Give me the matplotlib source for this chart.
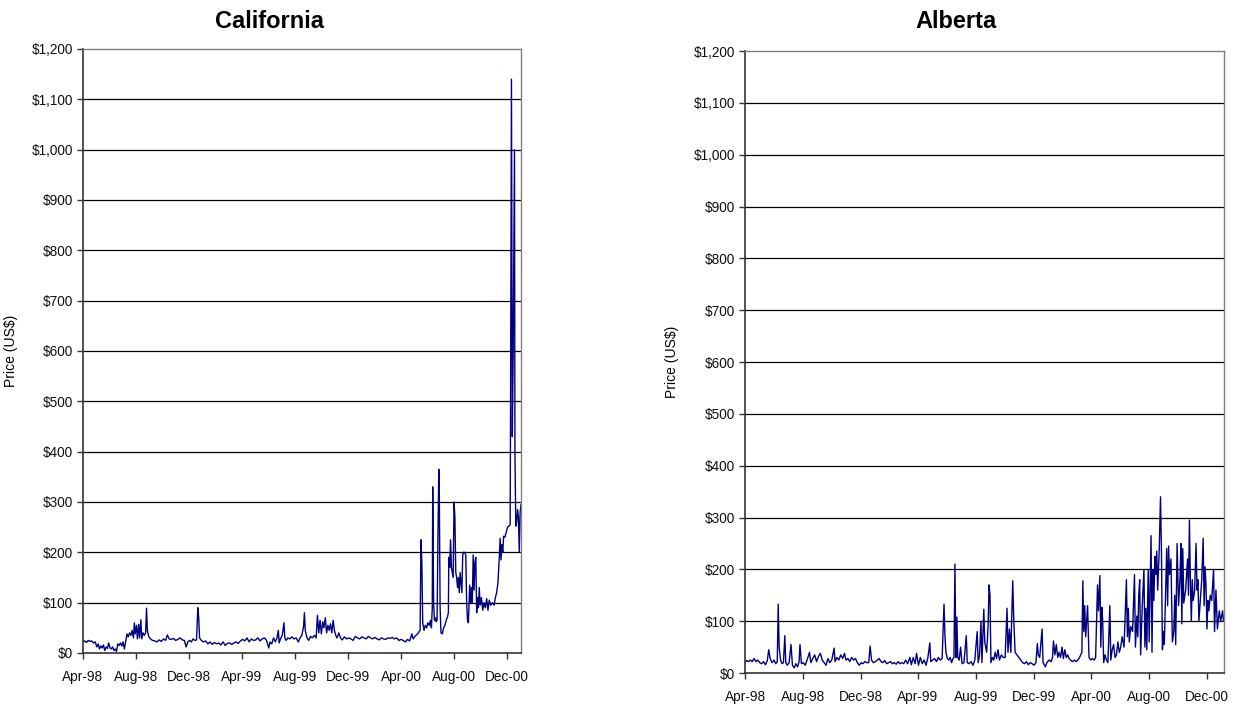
import numpy as np
import matplotlib
matplotlib.use('Agg')
import matplotlib.pyplot as plt
import matplotlib.dates as mdates
from matplotlib.ticker import MultipleLocator, FuncFormatter

plt.rcParams['font.family'] = ['Liberation Sans Narrow', 'Liberation Sans', 'DejaVu Sans']

#================= California daily price (US$) ==================
cal_dates = [
    '1998-04-01', '1998-04-05', '1998-04-09', '1998-04-13', '1998-04-17', '1998-04-21', '1998-04-25', '1998-04-29',
    '1998-05-03', '1998-05-06', '1998-05-09', '1998-05-12', '1998-05-15', '1998-05-18', '1998-05-21', '1998-05-24',
    '1998-05-27', '1998-05-30', '1998-06-02', '1998-06-05', '1998-06-08', '1998-06-11', '1998-06-14', '1998-06-17',
    '1998-06-20', '1998-06-23', '1998-06-26', '1998-06-29', '1998-07-02', '1998-07-05', '1998-07-08', '1998-07-11',
    '1998-07-14', '1998-07-17', '1998-07-20', '1998-07-23', '1998-07-26', '1998-07-28', '1998-07-30', '1998-08-02',
    '1998-08-04', '1998-08-07', '1998-08-09', '1998-08-12', '1998-08-14', '1998-08-17', '1998-08-20', '1998-08-23',
    '1998-08-25', '1998-08-27', '1998-08-30', '1998-09-03', '1998-09-08', '1998-09-13', '1998-09-18', '1998-09-23',
    '1998-09-28', '1998-10-03', '1998-10-08', '1998-10-12', '1998-10-16', '1998-10-21', '1998-10-26', '1998-10-31',
    '1998-11-05', '1998-11-10', '1998-11-15', '1998-11-20', '1998-11-24', '1998-11-28', '1998-12-02', '1998-12-06',
    '1998-12-10', '1998-12-14', '1998-12-18', '1998-12-21', '1998-12-23', '1998-12-25', '1998-12-29',
    '1999-01-03', '1999-01-08', '1999-01-13', '1999-01-18', '1999-01-23', '1999-01-28', '1999-02-02', '1999-02-07',
    '1999-02-12', '1999-02-17', '1999-02-22', '1999-02-27', '1999-03-04', '1999-03-09', '1999-03-14', '1999-03-19',
    '1999-03-24', '1999-03-29', '1999-04-03', '1999-04-08', '1999-04-13', '1999-04-18', '1999-04-23', '1999-04-28',
    '1999-05-03', '1999-05-08', '1999-05-13', '1999-05-18', '1999-05-23', '1999-05-28', '1999-06-02', '1999-06-05',
    '1999-06-09', '1999-06-13', '1999-06-17', '1999-06-21', '1999-06-24', '1999-06-26', '1999-06-29', '1999-07-03',
    '1999-07-07', '1999-07-09', '1999-07-12', '1999-07-16', '1999-07-20', '1999-07-25', '1999-07-30', '1999-08-04',
    '1999-08-09', '1999-08-13', '1999-08-17', '1999-08-21', '1999-08-23', '1999-08-25', '1999-08-29', '1999-09-02',
    '1999-09-06', '1999-09-10', '1999-09-15', '1999-09-19', '1999-09-22', '1999-09-25', '1999-09-28', '1999-10-01',
    '1999-10-04', '1999-10-07', '1999-10-10', '1999-10-13', '1999-10-16', '1999-10-19', '1999-10-22', '1999-10-25',
    '1999-10-28', '1999-10-31', '1999-11-03', '1999-11-06', '1999-11-10', '1999-11-14', '1999-11-18', '1999-11-23',
    '1999-11-28', '1999-12-03', '1999-12-08', '1999-12-13', '1999-12-18', '1999-12-23', '1999-12-28',
    '2000-01-02', '2000-01-07', '2000-01-12', '2000-01-17', '2000-01-22', '2000-01-27', '2000-02-01', '2000-02-06',
    '2000-02-11', '2000-02-16', '2000-02-21', '2000-02-26', '2000-03-02', '2000-03-07', '2000-03-12', '2000-03-17',
    '2000-03-22', '2000-03-27', '2000-04-01', '2000-04-06', '2000-04-11', '2000-04-16', '2000-04-21', '2000-04-26',
    '2000-04-29', '2000-05-03', '2000-05-07', '2000-05-11', '2000-05-15', '2000-05-17', '2000-05-19', '2000-05-21',
    '2000-05-24', '2000-05-27', '2000-05-30', '2000-06-02', '2000-06-05', '2000-06-08', '2000-06-10', '2000-06-12',
    '2000-06-13', '2000-06-15', '2000-06-17', '2000-06-19', '2000-06-21', '2000-06-23', '2000-06-25', '2000-06-27',
    '2000-06-28', '2000-06-30', '2000-07-02', '2000-07-05', '2000-07-08', '2000-07-11', '2000-07-14', '2000-07-17',
    '2000-07-19', '2000-07-20', '2000-07-22', '2000-07-24', '2000-07-26', '2000-07-28', '2000-07-30', '2000-08-01',
    '2000-08-03', '2000-08-05', '2000-08-07', '2000-08-09', '2000-08-11', '2000-08-13', '2000-08-15', '2000-08-17',
    '2000-08-19', '2000-08-21', '2000-08-23', '2000-08-25', '2000-08-28', '2000-08-30', '2000-09-01', '2000-09-03',
    '2000-09-06', '2000-09-08', '2000-09-10', '2000-09-12', '2000-09-14', '2000-09-16', '2000-09-18', '2000-09-20',
    '2000-09-22', '2000-09-24', '2000-09-26', '2000-09-28', '2000-09-30', '2000-10-03', '2000-10-06', '2000-10-09',
    '2000-10-12', '2000-10-15', '2000-10-18', '2000-10-21', '2000-10-24', '2000-10-28', '2000-11-01', '2000-11-04',
    '2000-11-07', '2000-11-10', '2000-11-13', '2000-11-15', '2000-11-17', '2000-11-19', '2000-11-21', '2000-11-23',
    '2000-11-26', '2000-11-29', '2000-12-02', '2000-12-05', '2000-12-08', '2000-12-09', '2000-12-11', '2000-12-13',
    '2000-12-15', '2000-12-18', '2000-12-19', '2000-12-21', '2000-12-23', '2000-12-25', '2000-12-27', '2000-12-29',
    '2000-12-31', '2001-01-02',
]
cal_prices = [
    22, 24, 21, 25, 23, 24, 20, 22,
    12, 18, 8, 14, 10, 16, 5, 12,
    9, 20, 10, 8, 12, 5, 8, 3,
    18, 15, 20, 14, 22, 8, 22, 38,
    32, 40, 35, 45, 30, 60, 38, 55,
    28, 57, 30, 66, 28, 40, 35, 40,
    89, 45, 33, 28, 25, 24, 22, 26,
    23, 28, 25, 36, 28, 27, 29, 25,
    27, 30, 26, 25, 12, 22, 25, 22,
    28, 25, 26, 90, 70, 30, 25,
    22, 24, 18, 22, 17, 21, 18, 20,
    16, 22, 15, 19, 20, 17, 20, 22,
    19, 24, 27, 24, 30, 22, 28, 25,
    26, 30, 24, 28, 30, 25, 10, 22,
    18, 30, 22, 30, 45, 20, 28, 35,
    60, 30, 25, 30, 28, 32, 28, 30,
    22, 30, 35, 52, 80, 45, 30, 25,
    33, 30, 35, 30, 75, 40, 65, 38,
    62, 50, 70, 40, 55, 45, 58, 40,
    65, 45, 35, 30, 40, 30, 26, 32,
    28, 30, 28, 25, 33, 30, 28,
    32, 30, 28, 33, 30, 28, 31, 28,
    26, 30, 28, 27, 30, 29, 31, 28,
    30, 25, 27, 25, 22, 27, 24, 38,
    28, 33, 36, 40, 45, 225, 180, 60,
    45, 55, 50, 60, 55, 65, 50, 90,
    330, 100, 65, 70, 62, 65, 230, 365,
    330, 90, 40, 38, 50, 55, 65, 72,
    80, 190, 170, 225, 170, 160, 150, 300,
    270, 160, 150, 130, 150, 120, 160, 140,
    120, 195, 200, 200, 195, 100, 65, 60,
    135, 100, 130, 100, 195, 125, 180, 190,
    80, 110, 90, 130, 95, 110, 85, 100,
    90, 108, 85, 105, 95, 100, 95, 110,
    120, 140, 190, 228, 185, 215, 200, 232,
    230, 240, 250, 252, 255, 500, 1140, 430,
    600, 1000, 400, 252, 260, 285, 270, 200,
    280, 295,
]

#================= Alberta daily price (US$) ==================
alb_dates = [
    '1998-04-01', '1998-04-04', '1998-04-08', '1998-04-12', '1998-04-16', '1998-04-20', '1998-04-24', '1998-04-28',
    '1998-05-02', '1998-05-06', '1998-05-10', '1998-05-14', '1998-05-18', '1998-05-21', '1998-05-24', '1998-05-28',
    '1998-06-01', '1998-06-05', '1998-06-08', '1998-06-10', '1998-06-12', '1998-06-15', '1998-06-18', '1998-06-21',
    '1998-06-24', '1998-06-26', '1998-06-29', '1998-07-03', '1998-07-07', '1998-07-10', '1998-07-14', '1998-07-17',
    '1998-07-21', '1998-07-24', '1998-07-26', '1998-07-29', '1998-08-02', '1998-08-06', '1998-08-10', '1998-08-15',
    '1998-08-18', '1998-08-22', '1998-08-26', '1998-08-30', '1998-09-03', '1998-09-07', '1998-09-11', '1998-09-15',
    '1998-09-19', '1998-09-23', '1998-09-27', '1998-10-01', '1998-10-06', '1998-10-08', '1998-10-12', '1998-10-16',
    '1998-10-20', '1998-10-24', '1998-10-28', '1998-10-31', '1998-11-04', '1998-11-08', '1998-11-12', '1998-11-16',
    '1998-11-20', '1998-11-24', '1998-11-28', '1998-12-02', '1998-12-06', '1998-12-10', '1998-12-14', '1998-12-18',
    '1998-12-21', '1998-12-24', '1998-12-28',
    '1999-01-01', '1999-01-05', '1999-01-09', '1999-01-13', '1999-01-17', '1999-01-21', '1999-01-25', '1999-01-29',
    '1999-02-02', '1999-02-06', '1999-02-10', '1999-02-14', '1999-02-18', '1999-02-22', '1999-02-26', '1999-03-02',
    '1999-03-06', '1999-03-10', '1999-03-15', '1999-03-18', '1999-03-22', '1999-03-26', '1999-03-29', '1999-04-02',
    '1999-04-06', '1999-04-10', '1999-04-14', '1999-04-18', '1999-04-22', '1999-04-26', '1999-04-28', '1999-05-02',
    '1999-05-06', '1999-05-10', '1999-05-14', '1999-05-18', '1999-05-22', '1999-05-26', '1999-05-28', '1999-05-30',
    '1999-06-02', '1999-06-05', '1999-06-08', '1999-06-11', '1999-06-14', '1999-06-16', '1999-06-18', '1999-06-20',
    '1999-06-22', '1999-06-24', '1999-06-27', '1999-06-30', '1999-07-03', '1999-07-07', '1999-07-12', '1999-07-14',
    '1999-07-18', '1999-07-22', '1999-07-26', '1999-07-30', '1999-08-04', '1999-08-06', '1999-08-09', '1999-08-12',
    '1999-08-14', '1999-08-18', '1999-08-20', '1999-08-24', '1999-08-27', '1999-08-29', '1999-08-31', '1999-09-02',
    '1999-09-05', '1999-09-08', '1999-09-11', '1999-09-14', '1999-09-17', '1999-09-20', '1999-09-24', '1999-09-28',
    '1999-10-02', '1999-10-06', '1999-10-08', '1999-10-11', '1999-10-14', '1999-10-18', '1999-10-20', '1999-10-23',
    '1999-10-27', '1999-10-31', '1999-11-04', '1999-11-08', '1999-11-12', '1999-11-16', '1999-11-20', '1999-11-24',
    '1999-11-28', '1999-12-02', '1999-12-06', '1999-12-09', '1999-12-11', '1999-12-14', '1999-12-19', '1999-12-21',
    '1999-12-26', '1999-12-29',
    '2000-01-03', '2000-01-07', '2000-01-10', '2000-01-12', '2000-01-15', '2000-01-18', '2000-01-21', '2000-01-24',
    '2000-01-27', '2000-01-30', '2000-02-02', '2000-02-05', '2000-02-08', '2000-02-11', '2000-02-14', '2000-02-17',
    '2000-02-21', '2000-02-25', '2000-02-29', '2000-03-03', '2000-03-07', '2000-03-12', '2000-03-14', '2000-03-16',
    '2000-03-18', '2000-03-20', '2000-03-24', '2000-03-27', '2000-03-31', '2000-04-03', '2000-04-07', '2000-04-10',
    '2000-04-14', '2000-04-16', '2000-04-19', '2000-04-21', '2000-04-23', '2000-04-25', '2000-04-27', '2000-04-30',
    '2000-05-03', '2000-05-06', '2000-05-10', '2000-05-12', '2000-05-15', '2000-05-18', '2000-05-21', '2000-05-24',
    '2000-05-27', '2000-05-30', '2000-06-02', '2000-06-05', '2000-06-09', '2000-06-14', '2000-06-16', '2000-06-18',
    '2000-06-20', '2000-06-23', '2000-06-27', '2000-07-01', '2000-07-03', '2000-07-06', '2000-07-08', '2000-07-10',
    '2000-07-12', '2000-07-14', '2000-07-17', '2000-07-21', '2000-07-23', '2000-07-25', '2000-07-27', '2000-07-30',
    '2000-08-01', '2000-08-05', '2000-08-07', '2000-08-09', '2000-08-11', '2000-08-13', '2000-08-15', '2000-08-17',
    '2000-08-19', '2000-08-22', '2000-08-25', '2000-08-27', '2000-08-29', '2000-08-31', '2000-09-02', '2000-09-07',
    '2000-09-09', '2000-09-11', '2000-09-13', '2000-09-16', '2000-09-19', '2000-09-22', '2000-09-24', '2000-09-26',
    '2000-09-29', '2000-10-02', '2000-10-05', '2000-10-07', '2000-10-09', '2000-10-11', '2000-10-13', '2000-10-17',
    '2000-10-21', '2000-10-23', '2000-10-25', '2000-10-27', '2000-10-29', '2000-10-31', '2000-11-02', '2000-11-05',
    '2000-11-08', '2000-11-10', '2000-11-12', '2000-11-14', '2000-11-17', '2000-11-20', '2000-11-23', '2000-11-25',
    '2000-11-27', '2000-11-29', '2000-12-01', '2000-12-03', '2000-12-05', '2000-12-08', '2000-12-11', '2000-12-15',
    '2000-12-17', '2000-12-20', '2000-12-23', '2000-12-27', '2000-12-30', '2001-01-03', '2001-01-05',
]
alb_prices = [
    20, 24, 22, 25, 22, 28, 22, 25,
    20, 18, 22, 16, 24, 45, 28, 20,
    25, 18, 22, 133, 50, 25, 18, 20,
    72, 20, 15, 20, 55, 15, 10, 18,
    12, 22, 55, 18, 20, 15, 25, 40,
    20, 28, 35, 22, 32, 38, 25, 20,
    15, 28, 20, 25, 48, 22, 30, 25,
    35, 28, 38, 25, 28, 22, 30, 25,
    28, 20, 15, 20, 18, 22, 20, 20,
    52, 25, 20,
    22, 25, 28, 22, 20, 24, 18, 20,
    22, 18, 20, 17, 22, 18, 20, 18,
    25, 18, 30, 16, 30, 18, 38, 15,
    30, 18, 25, 15, 30, 58, 22, 25,
    28, 22, 30, 25, 28, 133, 70, 40,
    28, 25, 30, 20, 28, 30, 210, 30,
    108, 30, 25, 50, 18, 20, 72, 20,
    18, 22, 15, 25, 80, 20, 35, 100,
    20, 123, 60, 40, 90, 170, 150, 20,
    30, 25, 40, 28, 45, 25, 35, 30,
    30, 125, 40, 85, 40, 178, 110, 40,
    35, 30, 25, 20, 18, 22, 16, 20,
    18, 15, 20, 57, 35, 30, 85, 20,
    12, 20,
    25, 22, 30, 62, 35, 55, 30, 40,
    30, 50, 28, 45, 30, 35, 28, 25,
    22, 25, 22, 25, 30, 40, 178, 80,
    130, 70, 130, 30, 25, 28, 25, 30,
    170, 120, 188, 50, 127, 100, 20, 35,
    25, 20, 130, 25, 45, 55, 30, 35,
    60, 40, 50, 70, 50, 180, 70, 125,
    60, 90, 80, 190, 50, 110, 70, 150,
    180, 35, 120, 200, 50, 125, 45, 200,
    60, 265, 40, 200, 140, 225, 190, 235,
    160, 230, 340, 230, 45, 80, 55, 240,
    130, 245, 190, 220, 60, 80, 150, 55,
    250, 130, 180, 250, 95, 240, 135, 160,
    220, 150, 295, 180, 100, 180, 140, 160,
    250, 160, 180, 100, 140, 180, 260, 130,
    205, 170, 85, 140, 120, 150, 140, 200,
    80, 160, 85, 120, 100, 120, 100,
]

panels = [
    ('California', cal_dates, cal_prices, '2001-01-02'),
    ('Alberta', alb_dates, alb_prices, '2001-01-06'),
]

# axes boxes in figure fractions (left, bottom, width, height)
boxes = [
    [0.0671, 0.0777, 0.3541, 0.8531],
    [0.6023, 0.0494, 0.3872, 0.8785],
]
title_x = [0.2175, 0.773]
ylabel_x = [-0.148, -0.138]

fig = plt.figure(figsize=(12.37, 7.08), dpi=100)

for i, (name, dates, prices, xend) in enumerate(panels):
    ax = fig.add_axes(boxes[i])
    x = np.array(dates, dtype='datetime64[D]')
    ax.plot(x, prices, color='#000080', linewidth=1.0)

    ax.set_xlim(np.datetime64('1998-04-01'), np.datetime64(xend))
    ax.set_ylim(0, 1200)
    ax.yaxis.set_major_locator(MultipleLocator(100))
    ax.yaxis.set_major_formatter(FuncFormatter(lambda v, p: '${:,.0f}'.format(v)))
    ax.xaxis.set_major_locator(mdates.MonthLocator(bymonth=[4, 8, 12]))
    ax.xaxis.set_major_formatter(mdates.DateFormatter('%b-%y'))

    for v in range(100, 1200, 100):
        ax.axhline(v, color='black', linewidth=0.9, zorder=0)

    for s in ['top', 'right']:
        ax.spines[s].set_color('#808080')
        ax.spines[s].set_linewidth(1.0)
    for s in ['left', 'bottom']:
        ax.spines[s].set_color('#333333')
        ax.spines[s].set_linewidth(1.2)

    ax.tick_params(axis='both', direction='out', length=4, width=1, color='#333333',
                   labelsize=9.8, labelcolor='#111111')
    ax.tick_params(axis='x', pad=8)
    ax.tick_params(axis='y', pad=3)

    ax.set_ylabel('Price (US$)', fontsize=10)
    ax.yaxis.set_label_coords(ylabel_x[i], 0.5)

    fig.text(title_x[i], 1 - 22.0 / 708, name, ha='center', va='center',
             fontsize=17, fontweight='bold')

fig.savefig('out.png', dpi=100)
